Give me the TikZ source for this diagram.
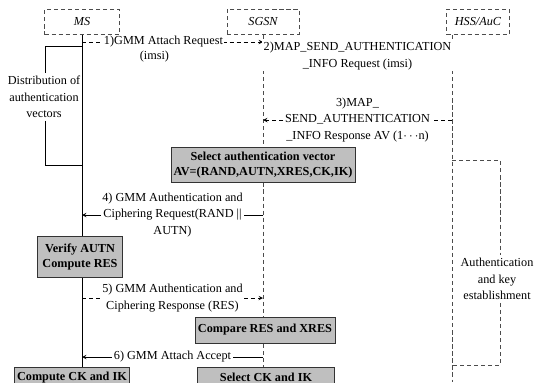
\documentclass[tikz,border=0pt]{standalone}
\usepackage{fontspec}
\setmainfont{Liberation Serif}
\begin{document}
\begin{tikzpicture}[>=stealth, x=0.025cm, y=-0.025cm,
    every node/.style={font=\fontsize{8.7}{11.7}\selectfont},
    % Node styles
    entity/.style={
        draw=black!70, densely dashed, minimum height=0.625cm,
        font=\fontsize{8.7}{11.7}\selectfont\itshape
    },
    lifeline/.style={black!70, densely dashed},
    action/.style={
        draw=black!80, fill=black!25, inner sep=2pt, align=center,
        font=\fontsize{8.7}{11}\selectfont\bfseries
    },
    msg/.style={fill=white, align=center, inner sep=1pt},
    note/.style={align=center, inner sep=2pt}
]
\useasboundingbox (0,0) rectangle (536,382);

% =============================================
% ENTITIES AND LIFELINES
% =============================================

\node[entity, minimum width=1.875cm] (ms) at (82, 22) {MS};
\node[entity, minimum width=1.8cm] (sgsn) at (263, 22) {SGSN};
\node[entity, minimum width=1.575cm] (hss) at (478, 22) {HSS/AuC};

\coordinate (msEnd) at (82, 367);
\coordinate (sgsnEnd) at (263, 367);
\coordinate (hssTop) at (452, 35);
\coordinate (hssEnd) at (452, 382);

\draw (ms.south) -- (msEnd);
\draw[lifeline] (sgsn.south) -- (sgsnEnd);
\draw[lifeline] (hssTop) -- (hssEnd);

% points on the lifelines, one row per message
\foreach \n/\y in {1/42, 2/63, 3/120, 4/215, 5/298, 6/357} {
    \coordinate (ms\n) at (82, \y);
    \coordinate (sgsn\n) at (263, \y);
    \coordinate (hss\n) at (452, \y);
}

% =============================================
% MESSAGES
% =============================================

% MS -> SGSN attach request
\draw[->, densely dashed] (ms1) -- (sgsn1)
    node[msg, pos=0.45] {1)GMM Attach Request}
    node[msg, pos=0.4, below=5pt] {(imsi)};

% SGSN -> HSS/AuC
\draw[->, densely dashed] (sgsn2) -- (hss2)
    node[msg, midway, yshift=5pt] {2)MAP\_SEND\_AUTHENTICATION\\\_INFO Request (imsi)};

% HSS/AuC -> SGSN
\draw[->, densely dashed] (hss3) -- (sgsn3)
    node[msg, midway] {3)MAP\_\\SEND\_AUTHENTICATION\\\_INFO Response AV (1$\cdots$n)};

% SGSN picks a vector
\node[action, minimum width=4.5cm, minimum height=0.875cm] (selav) at (263, 165)
    {Select authentication vector\\AV=(RAND,AUTN,XRES,CK,IK)};

% SGSN -> MS
\draw[->] (sgsn4) -- (ms4)
    node[msg, midway] {4) GMM Authentication and\\Ciphering Request(RAND ||\\AUTN)};

% MS checks the network
\node[action, minimum width=2.125cm, minimum height=1.025cm] (verify) at (80, 257)
    {Verify AUTN\\Compute RES};

% MS -> SGSN
\draw[->, densely dashed] (ms5) -- (sgsn5)
    node[msg, midway] {5) GMM Authentication and\\Ciphering Response (RES)};

% SGSN checks the MS
\node[action, minimum width=3.375cm, minimum height=0.65cm] (cmpres) at (265, 330)
    {Compare RES and XRES};

% SGSN -> MS attach accept
\draw[->] (sgsn6) -- (ms6)
    node[msg, midway] {6) GMM Attach Accept};

% keys on both sides
\node[action, anchor=north, minimum width=2.75cm, minimum height=0.5cm] (compck) at (72, 367)
    {Compute CK and IK};
\node[action, anchor=north, minimum width=3.425cm, minimum height=0.5cm] (selck) at (266, 367)
    {Select CK and IK};

% =============================================
% PHASES
% =============================================

% Distribution of authentication vectors (left)
\coordinate (msA) at (82, 46);
\coordinate (msB) at (82, 165);
\coordinate (distTop) at (45, 46);
\coordinate (distBot) at (45, 165);
\node[note] (distrib) at (44, 97) {Distribution of\\authentication\\vectors};
\draw (msA) -- (distTop) -- (distrib.north -| distTop);
\draw (distrib.south -| distTop) -- (distBot) -- (msB);

% Authentication and key establishment (right)
\coordinate (hssA) at (452, 160);
\coordinate (hssB) at (452, 365);
\coordinate (akTop) at (500, 160);
\coordinate (akBot) at (500, 365);
\node[note] (authkey) at (497, 279) {Authentication\\and key\\establishment};
\draw[lifeline] (hssA) -- (akTop) -- (authkey.north -| akTop);
\draw[lifeline] (authkey.south -| akTop) -- (akBot) -- (hssB);

\end{tikzpicture}
\end{document}
